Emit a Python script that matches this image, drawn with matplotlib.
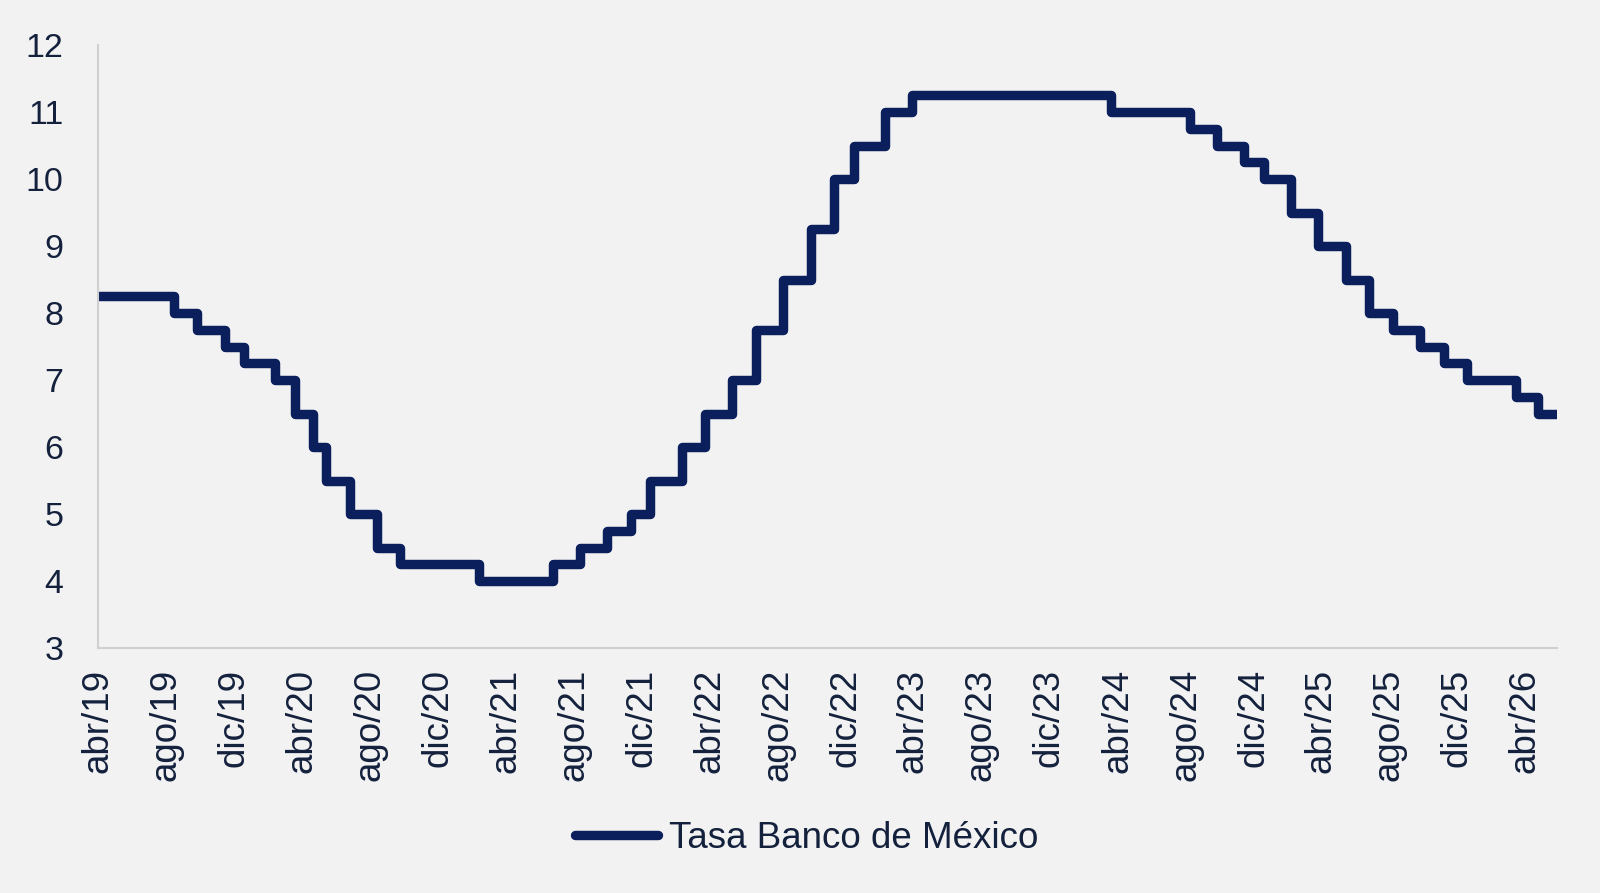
import matplotlib
matplotlib.use("Agg")
import matplotlib.pyplot as plt
import pandas as pd

# fechas de decision y nivel de la tasa objetivo
fechas = ["2019-04-01", "2019-08-15", "2019-09-26", "2019-11-14", "2019-12-19",
          "2020-02-13", "2020-03-20", "2020-04-21", "2020-05-14", "2020-06-25",
          "2020-08-13", "2020-09-24", "2021-02-11", "2021-06-24", "2021-08-12",
          "2021-09-30", "2021-11-11", "2021-12-16", "2022-02-10", "2022-03-24",
          "2022-05-12", "2022-06-23", "2022-08-11", "2022-09-29", "2022-11-10",
          "2022-12-15", "2023-02-09", "2023-03-30", "2024-03-21", "2024-08-08",
          "2024-09-26", "2024-11-14", "2024-12-19", "2025-02-06", "2025-03-27",
          "2025-05-15", "2025-06-26", "2025-08-07", "2025-09-25", "2025-11-06",
          "2025-12-18", "2026-03-15", "2026-04-25", "2026-05-28"]
tasa = [8.25, 8.00, 7.75, 7.50, 7.25,
        7.00, 6.50, 6.00, 5.50, 5.00,
        4.50, 4.25, 4.00, 4.25, 4.50,
        4.75, 5.00, 5.50, 6.00, 6.50,
        7.00, 7.75, 8.50, 9.25, 10.00,
        10.50, 11.00, 11.25, 11.00, 10.75,
        10.50, 10.25, 10.00, 9.50, 9.00,
        8.50, 8.00, 7.75, 7.50, 7.25,
        7.00, 6.75, 6.50, 6.50]

meses = ["ene", "feb", "mar", "abr", "may", "jun", "jul", "ago", "sep", "oct", "nov", "dic"]
ticks = pd.date_range("2019-04-01", "2026-04-01", freq="4MS")
tick_labels = [f"{meses[d.month - 1]}/{d.year % 100:02d}" for d in ticks]

fechas = pd.to_datetime(fechas)
azul = "#0a1f5c"
texto = "#14213d"
fondo = "#f2f2f2"

fig = plt.figure(figsize=(16, 8.93), dpi=100, facecolor=fondo)
ax = fig.add_axes([0.0612, 0.2743, 0.9118, 0.6753], facecolor=fondo)

ax.plot(fechas, tasa, drawstyle="steps-post", color=azul, lw=6.8,
        solid_joinstyle="round", label="Tasa Banco de México")

ax.set_xlim(pd.Timestamp("2019-04-01"), pd.Timestamp("2026-05-28"))
ax.set_ylim(3, 12)
ax.set_yticks(range(3, 13))
ax.set_xticks(ticks)
ax.set_xticklabels(tick_labels, rotation=90)

for s in ["top", "right"]:
    ax.spines[s].set_visible(False)
for s in ["left", "bottom"]:
    ax.spines[s].set_color("#d0d0d0")
    ax.spines[s].set_linewidth(1.5)

ax.tick_params(axis="both", length=0, labelcolor=texto)
ax.tick_params(axis="y", pad=25, labelsize=24.5)
ax.tick_params(axis="x", pad=15, labelsize=26.5)
for lab in ax.get_xticklabels() + ax.get_yticklabels():
    lab.set_fontfamily("Liberation Sans")

leg = fig.legend(loc="center", bbox_to_anchor=(0.504, 0.061), frameon=False,
                 handlelength=2.25, handletextpad=0.3,
                 prop={"family": "Liberation Sans", "size": 26.5})
for t in leg.get_texts():
    t.set_color(texto)
for h in leg.get_lines():
    h.set_solid_capstyle("round")

fig.savefig("out.png", dpi=100, facecolor=fondo)
